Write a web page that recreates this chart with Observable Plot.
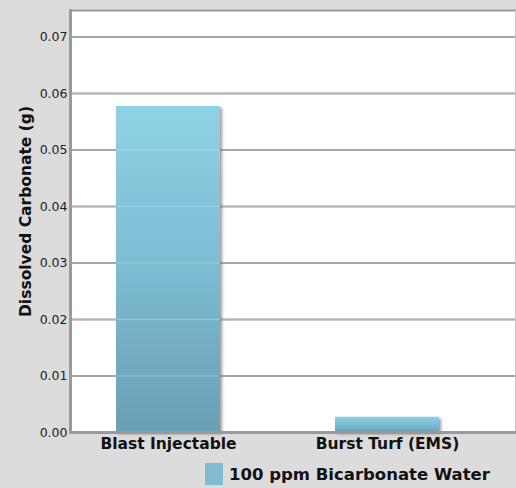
<!DOCTYPE html>
<html>
<head>
<meta charset="utf-8">
<script src="https://cdn.jsdelivr.net/npm/d3@7"></script>
<script src="https://cdn.jsdelivr.net/npm/@observablehq/plot@0.6"></script>
<style>
  html, body { margin: 0; padding: 0; background: #dcdcdc; width: 516px; height: 488px; overflow: hidden; }
  #chart svg { display: block; background: transparent; }
  #legend { display: flex; align-items: center; padding-left: 205px; margin-top: 9px; font-family: "DejaVu Sans", sans-serif; font-weight: bold; font-size: 16.5px; color: #111; }
  #legend .sw { width: 18px; height: 22px; background: #7fbcd2; margin-right: 6px; }
</style>
</head>
<body>
<div id="chart"></div>
<div id="legend"><div class="sw"></div><span id="legendText"></span></div>
<script>
const categories = ["Blast Injectable", "Burst Turf (EMS)"];
const values = [0.0577, 0.0027];
const yTicks = [0, 0.01, 0.02, 0.03, 0.04, 0.05, 0.06, 0.07];
const seriesName = "100 ppm Bicarbonate Water";
const yLabel = "Dissolved Carbonate (g)";

const data = categories.map((c, i) => ({category: c, value: values[i]}));

const svg = Plot.plot({
  width: 516,
  height: 454,
  marginTop: 10,
  marginBottom: 22,
  marginLeft: 70,
  marginRight: 1,
  style: {fontFamily: "'DejaVu Sans', sans-serif", background: "transparent"},
  x: {domain: categories, range: [58.5, 496.5], paddingInner: 0.525, paddingOuter: 0.2625, label: null},
  y: {domain: [0, 0.0747], label: null},
  marks: [
    Plot.frame({fill: "white", stroke: null}),
    Plot.gridY(yTicks, {stroke: "#9a9a9a", strokeOpacity: 1, strokeWidth: 2}),
    Plot.barY(data, {x: "category", y: "value", fill: "url(#barGrad)"}),
    Plot.gridY(yTicks.slice(1), {stroke: "white", strokeOpacity: 0.25, strokeWidth: 1}),
    Plot.frame({stroke: "#9a9a9a", strokeWidth: 2, anchor: "top"}),
    Plot.frame({stroke: "#c8c8c8", strokeWidth: 1, anchor: "right"}),
    Plot.frame({stroke: "#9a9a9a", strokeWidth: 3, anchor: "left"}),
    Plot.frame({stroke: "#9a9a9a", strokeWidth: 3, anchor: "bottom"}),
    Plot.axisY(yTicks, {tickSize: 0, tickPadding: 3, tickFormat: d3.format(".2f"), fontSize: 12.5, fill: "#222", label: null}),
    Plot.text([yLabel], {frameAnchor: "left", textAnchor: "middle", dx: -44, dy: -10, rotate: -90, fontWeight: "bold", fontSize: 15.5, fill: "#111"}),
    Plot.axisX({tickSize: 0, tickPadding: 5, fontSize: 15.5, fontWeight: "bold", fill: "#111", label: null})
  ]
});

const defs = d3.select(svg).insert("defs", ":first-child");
defs.html(`
  <linearGradient id="barGrad" x1="0" y1="0" x2="0" y2="1">
    <stop offset="0" stop-color="#8fd1e5"/>
    <stop offset="0.5" stop-color="#7dbcd3"/>
    <stop offset="1" stop-color="#6a9fb4"/>
  </linearGradient>
  <filter id="shadow" x="-10%" y="-10%" width="130%" height="130%">
    <feDropShadow dx="2" dy="2" stdDeviation="1.5" flood-color="#555" flood-opacity="0.6"/>
  </filter>
`);
d3.select(svg).selectAll("g").filter(function() { return this.getAttribute("fill") === "url(#barGrad)"; }).attr("filter", "url(#shadow)");

document.getElementById("chart").appendChild(svg);
document.getElementById("legendText").textContent = seriesName;
</script>
</body>
</html>
